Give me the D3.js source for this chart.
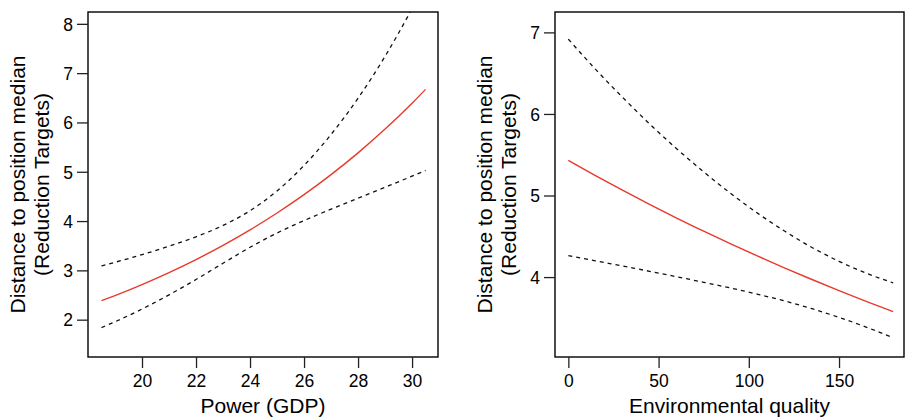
<!DOCTYPE html>
<html>
<head>
<meta charset="utf-8">
<script src="https://cdn.jsdelivr.net/npm/d3@7"></script>
<style>
  html, body { margin: 0; padding: 0; background: #fff; }
  svg { display: block; font-family: "Liberation Sans", Arial, Helvetica, sans-serif; }
</style>
</head>
<body>
<svg id="chart" width="905" height="417"></svg>
<script>
// ---------- Data ----------
// Left panel: Power (GDP)
const gdpX     = [18.5, 19, 20, 21, 22, 23, 24, 25, 26, 27, 28, 29, 30, 30.5];
const gdpFit   = [2.385, 2.489, 2.712, 2.955, 3.219, 3.507, 3.821, 4.163, 4.535, 4.941, 5.383, 5.865, 6.390, 6.671];
const gdpUpper = [3.091, 3.164, 3.319, 3.489, 3.681, 3.911, 4.210, 4.611, 5.128, 5.756, 6.491, 7.341, 8.314, 8.852];
const gdpLower = [1.840, 1.958, 2.216, 2.503, 2.815, 3.144, 3.468, 3.758, 4.010, 4.241, 4.464, 4.686, 4.911, 5.027];
const gdpXTicks = [20, 22, 24, 26, 28, 30];
const gdpYTicks = [2, 3, 4, 5, 6, 7, 8];

// Right panel: Environmental quality
const envX     = [0, 15, 30, 45, 60, 75, 90, 105, 120, 135, 150, 165, 180];
const envFit   = [5.430, 5.244, 5.065, 4.892, 4.724, 4.563, 4.407, 4.256, 4.111, 3.970, 3.834, 3.703, 3.576];
const envUpper = [6.917, 6.549, 6.205, 5.879, 5.574, 5.290, 5.025, 4.781, 4.561, 4.363, 4.193, 4.048, 3.929];
const envLower = [4.263, 4.199, 4.135, 4.071, 4.004, 3.936, 3.865, 3.789, 3.706, 3.612, 3.506, 3.387, 3.255];
const envXTicks = [0, 50, 100, 150];
const envYTicks = [4, 5, 6, 7];

const yTitle1 = "Distance to position median";
const yTitle2 = "(Reduction Targets)";

// ---------- Drawing ----------
const svg = d3.select("#chart");
const defs = svg.append("defs");

function panel(opts) {
  const { id, box, xDomain, yDomain, xs, fit, upper, lower, xTicks, yTicks, xTitle } = opts;
  const x = d3.scaleLinear().domain(xDomain).range([box.x0, box.x1]);
  const y = d3.scaleLinear().domain(yDomain).range([box.y1, box.y0]);
  const g = svg.append("g");

  defs.append("clipPath").attr("id", "clip-" + id)
    .append("rect")
    .attr("x", box.x0).attr("y", box.y0)
    .attr("width", box.x1 - box.x0).attr("height", box.y1 - box.y0);

  const line = d3.line()
    .x(d => x(d[0])).y(d => y(d[1]))
    .curve(d3.curveMonotoneX);

  const lines = g.append("g").attr("clip-path", `url(#clip-${id})`);
  lines.append("path")
    .attr("d", line(xs.map((v, i) => [v, upper[i]])))
    .attr("fill", "none").attr("stroke", "#111").attr("stroke-width", 1.3)
    .attr("stroke-dasharray", "4,4");
  lines.append("path")
    .attr("d", line(xs.map((v, i) => [v, lower[i]])))
    .attr("fill", "none").attr("stroke", "#111").attr("stroke-width", 1.3)
    .attr("stroke-dasharray", "4,4");
  lines.append("path")
    .attr("d", line(xs.map((v, i) => [v, fit[i]])))
    .attr("fill", "none").attr("stroke", "#e8392c").attr("stroke-width", 1.4);

  // Box
  g.append("rect")
    .attr("x", box.x0).attr("y", box.y0)
    .attr("width", box.x1 - box.x0).attr("height", box.y1 - box.y0)
    .attr("fill", "none").attr("stroke", "#000").attr("stroke-width", 1.4);

  // Axes
  const xAxis = g.append("g")
    .attr("transform", `translate(0,${box.y1})`)
    .call(d3.axisBottom(x).tickValues(xTicks).tickSize(11).tickPadding(7).tickFormat(d3.format("d")));
  const yAxis = g.append("g")
    .attr("transform", `translate(${box.x0},0)`)
    .call(d3.axisLeft(y).tickValues(yTicks).tickSize(11).tickPadding(4).tickFormat(d3.format("d")));
  [xAxis, yAxis].forEach(a => {
    a.select(".domain").remove();
    a.selectAll(".tick line").attr("stroke", "#222").attr("stroke-width", 1.3);
    a.selectAll(".tick text")
      .attr("fill", "#000")
      .style("font-size", "17.5px")
      .style("font-family", '"Liberation Sans", Arial, sans-serif');
  });
  yAxis.selectAll(".tick text").attr("dy", "0.36em");

  // Axis titles
  g.append("text")
    .attr("x", (box.x0 + box.x1) / 2).attr("y", 413)
    .attr("text-anchor", "middle")
    .style("font-size", "21px").attr("fill", "#000")
    .text(xTitle);

  const cy = (box.y0 + box.y1) / 2;
  g.append("text")
    .attr("transform", `translate(${box.x0 - 63},${cy}) rotate(-90)`)
    .attr("text-anchor", "middle")
    .style("font-size", "21px").attr("fill", "#000")
    .text(yTitle1);
  g.append("text")
    .attr("transform", `translate(${box.x0 - 39},${cy}) rotate(-90)`)
    .attr("text-anchor", "middle")
    .style("font-size", "21px").attr("fill", "#000")
    .text(yTitle2);
}

panel({
  id: "gdp",
  box: { x0: 88, x1: 438, y0: 12, y1: 357 },
  xDomain: [18, 30.96], yDomain: [1.243, 8.24],
  xs: gdpX, fit: gdpFit, upper: gdpUpper, lower: gdpLower,
  xTicks: gdpXTicks, yTicks: gdpYTicks,
  xTitle: "Power (GDP)"
});

panel({
  id: "env",
  box: { x0: 555, x1: 904, y0: 12, y1: 357 },
  xDomain: [-7.4, 186], yDomain: [3.02, 7.25],
  xs: envX, fit: envFit, upper: envUpper, lower: envLower,
  xTicks: envXTicks, yTicks: envYTicks,
  xTitle: "Environmental quality"
});
</script>
</body>
</html>
